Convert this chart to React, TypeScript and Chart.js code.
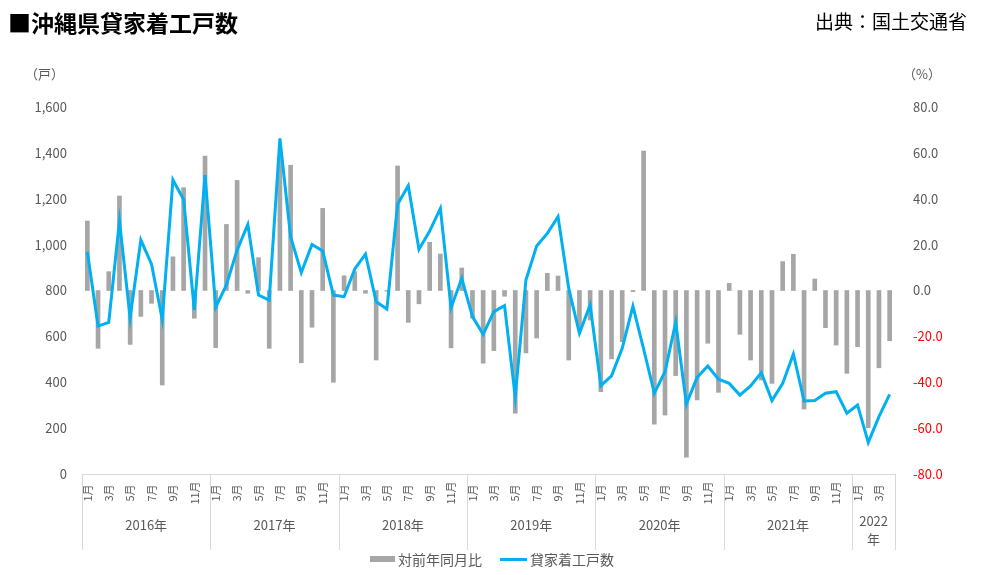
import { useEffect, useRef } from 'react';
import { Chart, registerables } from 'chart.js';

Chart.register(...registerables);

const FONT = '"Noto Sans CJK JP", "Noto Sans", sans-serif';

// year groups on the category axis
const years = ['2016年', '2017年', '2018年', '2019年', '2020年', '2021年', '2022年'];
const monthsPerYear = [12, 12, 12, 12, 12, 12, 4];

// 貸家着工戸数 (戸), Jan 2016 - Apr 2022
const units = [
  969, 645, 661, 1103, 681, 1020, 915, 674, 1282, 1197, 715, 1303,
  727, 824, 976, 1088, 780, 758, 1463, 1035, 878, 1001, 972, 780,
  773, 894, 959, 751, 719, 1176, 1257, 979, 1059, 1158, 725, 853,
  686, 609, 708, 734, 337, 846, 994, 1049, 1122, 809, 613, 737,
  385, 428, 548, 732, 545, 352, 446, 661, 305, 421, 471, 413,
  395, 344, 384, 442, 320, 395, 523, 318, 320, 352, 359, 265,
  301, 138, 250, 347,
];

// 対前年同月比 (%)
const yoy = [
  30.3, -25.2, 8.2, 41.2, -23.5, -11.3, -5.6, -41.2, 14.7, 44.8, -12.1, 58.6,
  -24.9, 28.8, 48.0, -1.2, 14.3, -25.2, 58.3, 54.6, -31.5, -16.0, 35.8, -40.0,
  6.4, 8.2, -1.2, -30.3, -0.3, 54.3, -13.9, -5.8, 21.0, 15.9, -25.0, 9.8,
  -12.0, -31.7, -26.2, -2.5, -53.5, -27.2, -20.7, 7.5, 6.3, -30.3, -17.0, -12.9,
  -44.1, -29.8, -22.3, -0.5, 60.8, -58.3, -54.3, -37.1, -72.7, -47.7, -23.0, -44.4,
  3.1, -19.1, -30.3, -39.0, -40.5, 12.6, 15.8, -51.7, 5.0, -16.2, -23.8, -36.1,
  -24.5, -59.8, -33.7, -21.9,
];

const leftRange = [0, 1600];
const leftStep = 200;
const rightRange = [-80, 80];
const rightStep = 20;

const monthLabels: string[] = [];
const monthNumbers: number[] = [];
monthsPerYear.forEach((n) => {
  for (let m = 1; m <= n; m++) {
    monthLabels.push(`${m}月`);
    monthNumbers.push(m);
  }
});

const axisTable = {
  id: 'axisTable',
  afterDraw(chart: any) {
    const { ctx, chartArea, scales } = chart;
    const x = scales.x;
    const top = chartArea.bottom;
    const bottom = top + 76;
    ctx.save();
    ctx.strokeStyle = '#D9D9D9';
    ctx.lineWidth = 1;
    ctx.beginPath();
    ctx.moveTo(chartArea.left, top + 0.5);
    ctx.lineTo(chartArea.right, top + 0.5);
    ctx.stroke();

    ctx.fillStyle = '#595959';
    ctx.font = `11px ${FONT}`;
    ctx.textAlign = 'center';
    ctx.textBaseline = 'middle';
    monthLabels.forEach((label, i) => {
      if (monthNumbers[i] % 2 === 0) return;
      ctx.save();
      ctx.translate(x.getPixelForValue(i), top + 19);
      ctx.rotate(-Math.PI / 2);
      ctx.fillText(label, 0, 0);
      ctx.restore();
    });

    ctx.font = `13px ${FONT}`;
    let start = 0;
    years.forEach((yr, g) => {
      const end = start + monthsPerYear[g] - 1;
      const x0 = start === 0 ? chartArea.left
        : (x.getPixelForValue(start - 1) + x.getPixelForValue(start)) / 2;
      const x1 = end === monthLabels.length - 1 ? chartArea.right
        : (x.getPixelForValue(end) + x.getPixelForValue(end + 1)) / 2;
      const edges = g === years.length - 1 ? [x0, x1] : [x0];
      edges.forEach((ex) => {
        const px = Math.round(ex) + 0.5;
        ctx.beginPath();
        ctx.moveTo(px, top);
        ctx.lineTo(px, bottom);
        ctx.stroke();
      });
      const cx = (x0 + x1) / 2;
      if (ctx.measureText(yr).width > x1 - x0 - 6) {
        ctx.fillText(yr.slice(0, -1), cx, top + 47);
        ctx.fillText(yr.slice(-1), cx, top + 65);
      } else {
        ctx.fillText(yr, cx, top + 51);
      }
      start = end + 1;
    });
    ctx.restore();
  },
};

const App = () => {
  const canvasRef = useRef<HTMLCanvasElement | null>(null);
  const chartRef = useRef<Chart | null>(null);

  useEffect(() => {
    if (!canvasRef.current) return;
    if (chartRef.current) chartRef.current.destroy();

    chartRef.current = new Chart(canvasRef.current, {
      type: 'bar',
      data: {
        labels: monthLabels,
        datasets: [
          {
            type: 'line',
            label: '貸家着工戸数',
            data: units,
            yAxisID: 'y',
            borderColor: '#00B0F0',
            borderWidth: 3,
            pointRadius: 0,
            tension: 0,
            order: 0,
          } as any,
          {
            type: 'bar',
            label: '対前年同月比',
            data: yoy,
            yAxisID: 'y1',
            backgroundColor: '#A6A6A6',
            barThickness: 4,
            order: 1,
          },
        ],
      },
      options: {
        responsive: false,
        animation: false,
        layout: { padding: { top: 107, bottom: 21, left: 0, right: 0 } },
        plugins: {
          legend: { display: false },
          tooltip: { enabled: false },
        },
        scales: {
          x: {
            grid: { display: false, drawTicks: false },
            border: { display: false },
            ticks: { display: false },
            afterFit: (s: any) => { s.height = 80; },
          },
          y: {
            position: 'left',
            min: leftRange[0],
            max: leftRange[1],
            grid: { display: false, drawTicks: false },
            border: { display: false },
            ticks: {
              stepSize: leftStep,
              padding: 15,
              color: '#595959',
              font: { family: FONT, size: 13 },
              callback: (v: any) => Number(v).toLocaleString('en-US'),
            },
            afterFit: (s: any) => { s.width = 82; },
          },
          y1: {
            position: 'right',
            min: rightRange[0],
            max: rightRange[1],
            grid: { display: false, drawTicks: false },
            border: { display: false },
            ticks: {
              stepSize: rightStep,
              padding: 18,
              color: (c: any) => (c.tick && c.tick.value < 0 ? '#FF0000' : '#595959'),
              font: { family: FONT, size: 13 },
              callback: (v: any) => Number(v).toFixed(1),
            },
            afterFit: (s: any) => { s.width = 86; },
          },
        },
      },
      plugins: [axisTable],
    });

    return () => {
      if (chartRef.current) {
        chartRef.current.destroy();
        chartRef.current = null;
      }
    };
  }, []);

  const text = { position: 'absolute' as const, fontFamily: FONT, color: '#595959', whiteSpace: 'nowrap' as const };

  return (
    <div style={{ position: 'fixed', left: 0, top: 0, width: 981, height: 575, background: '#fff' }}>
      <canvas ref={canvasRef} width={981} height={575} style={{ position: 'absolute', left: 0, top: 0 }} />
      <div style={{ ...text, left: 8, top: 6, fontSize: 23, fontWeight: 700, color: '#000', lineHeight: '32px' }}>
        ■沖縄県貸家着工戸数
      </div>
      <div style={{ ...text, left: 815, top: 8, fontSize: 19, color: '#000', lineHeight: '26px' }}>
        出典：国土交通省
      </div>
      <div style={{ ...text, left: 25, top: 65, fontSize: 13, lineHeight: '18px' }}>（戸）</div>
      <div style={{ ...text, left: 903, top: 65, fontSize: 13, lineHeight: '18px' }}>（%）</div>
      <div style={{ ...text, left: 370, top: 549, fontSize: 14, lineHeight: '20px', display: 'flex', alignItems: 'center' }}>
        <span style={{ display: 'inline-block', width: 25, height: 6, background: '#A6A6A6', marginRight: 3 }} />
        対前年同月比
        <span style={{ display: 'inline-block', width: 27, height: 3, background: '#00B0F0', marginLeft: 18, marginRight: 3 }} />
        貸家着工戸数
      </div>
    </div>
  );
};

export default App;
